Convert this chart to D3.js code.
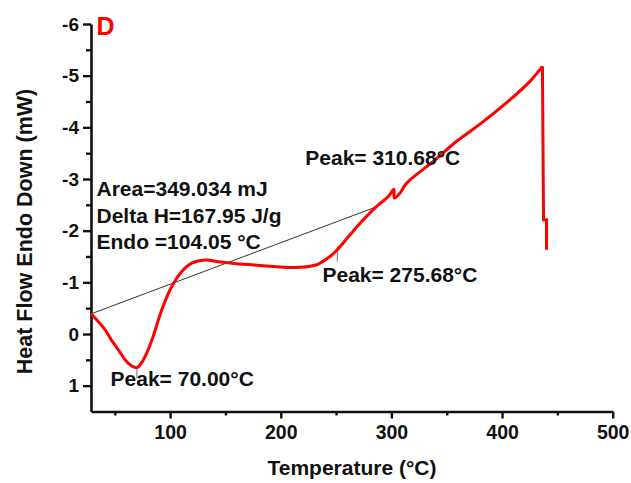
<!DOCTYPE html>
<html>
<head>
<meta charset="utf-8">
<script src="https://cdn.jsdelivr.net/npm/d3@7"></script>
<style>
  body { margin: 0; background: #fff; }
  text { font-family: "Liberation Sans", Arial, sans-serif; font-weight: bold; fill: #111; }
</style>
</head>
<body>
<svg width="631" height="483"></svg>
<script>
// DSC trace
const temperature = [28.6, 35, 41.3, 47, 53.3, 62.3, 70, 75.9, 83.5, 92.5, 101.5, 110.6, 119.6, 131.6, 143.6,
  155.7, 173.8, 196.4, 217.4, 232.5, 244.5, 251.1, 262.6, 274.6, 286.7, 297.2, 302.3, 302.5, 307.8, 313.8,
  337.8, 359, 383, 407, 425.2, 436.5];
const heatFlow = [-0.39, -0.24, -0.08, 0.12, 0.31, 0.57, 0.65, 0.5, 0.12, -0.47, -0.92, -1.21, -1.37, -1.43, -1.4,
  -1.37, -1.34, -1.3, -1.29, -1.34, -1.5, -1.63, -1.92, -2.21, -2.47, -2.66, -2.8, -2.63, -2.73, -2.92,
  -3.34, -3.73, -4.11, -4.53, -4.89, -5.18];
// drop at the end of the run
const tailTemperature = [436.5, 437.5, 440.2, 440.2];
const tailHeatFlow = [-5.18, -2.21, -2.21, -1.63];

// integration baseline and peak markers
const baselineTemperature = [28.6, 287.5];
const baselineHeatFlow = [-0.39, -2.47];
const markerTemperature = [70, 251.1];
const markerFrom = [0.65, -1.7];
const markerTo = [0.86, -1.4];

const xMajorTicks = [100, 200, 300, 400, 500];
const xMinorTicks = [50, 150, 250, 350, 450];
const yMajorTicks = [-6, -5, -4, -3, -2, -1, 0, 1];
const yMinorTicks = [-5.5, -4.5, -3.5, -2.5, -1.5, -0.5, 0.5];

const notes = ["Area=349.034 mJ", "Delta H=167.95 J/g", "Endo =104.05 °C"];
const peakLabels = ["Peak= 70.00°C", "Peak= 275.68°C", "Peak= 310.68°C"];
const peakLabelTemperature = [71.5, 263, 247.5];
const peakLabelHeatFlow = [1.01, -1.01, -3.28];

const svg = d3.select("svg");

const x = d3.scaleLinear().domain([28.5, 500]).range([91, 612.7]);
const y = d3.scaleLinear().domain([-6, 1.5]).range([24, 411.5]);

// axes
const xAxis = svg.append("g").attr("transform", "translate(0," + y(1.5) + ")");
xAxis.call(d3.axisBottom(x).tickValues(xMajorTicks).tickSize(7).tickSizeOuter(0).tickPadding(6));
xAxis.append("g").call(d3.axisBottom(x).tickValues(xMinorTicks).tickSize(4).tickFormat(""))
  .select(".domain").remove();

const yAxis = svg.append("g").attr("transform", "translate(" + x(28.5) + ",0)");
yAxis.call(d3.axisLeft(y).tickValues(yMajorTicks).tickSize(8).tickSizeOuter(0).tickPadding(4)
  .tickFormat((d) => String(d)));
yAxis.append("g").call(d3.axisLeft(y).tickValues(yMinorTicks).tickSize(5).tickFormat(""))
  .select(".domain").remove();

svg.selectAll(".domain").attr("stroke", "#111").attr("stroke-width", 2.6);
svg.selectAll(".tick line").attr("stroke", "#111").attr("stroke-width", 2.4);
xAxis.selectAll(".tick text").attr("font-size", 19.5).attr("dy", "0.72em");
yAxis.selectAll(".tick text").attr("font-size", 19);

// axis titles
svg.append("text")
  .attr("x", 352)
  .attr("y", 475)
  .attr("text-anchor", "middle")
  .attr("font-size", 21)
  .text("Temperature (°C)");

svg.append("text")
  .attr("transform", "translate(31.5," + 231.5 + ") rotate(-90)")
  .attr("text-anchor", "middle")
  .attr("font-size", 21.5)
  .text("Heat Flow Endo Down (mW)");

// baseline and markers
svg.append("line")
  .attr("x1", x(baselineTemperature[0])).attr("y1", y(baselineHeatFlow[0]))
  .attr("x2", x(baselineTemperature[1])).attr("y2", y(baselineHeatFlow[1]))
  .attr("stroke", "#333").attr("stroke-width", 1);

svg.append("g").selectAll("line")
  .data(markerTemperature)
  .enter().append("line")
  .attr("x1", (t) => x(t)).attr("x2", (t) => x(t))
  .attr("y1", (t, i) => y(markerFrom[i])).attr("y2", (t, i) => y(markerTo[i]))
  .attr("stroke", "#777").attr("stroke-width", 1);

// the curve
const curve = d3.line()
  .x((d) => x(d[0]))
  .y((d) => y(d[1]))
  .curve(d3.curveCatmullRom.alpha(0.5));

svg.append("path")
  .datum(d3.zip(temperature, heatFlow))
  .attr("fill", "none")
  .attr("stroke", "#ff0000")
  .attr("stroke-width", 3)
  .attr("stroke-linejoin", "round")
  .attr("d", curve);

svg.append("path")
  .datum(d3.zip(tailTemperature, tailHeatFlow))
  .attr("fill", "none")
  .attr("stroke", "#ff0000")
  .attr("stroke-width", 3)
  .attr("d", d3.line().x((d) => x(d[0])).y((d) => y(d[1])));

// annotations
svg.append("g").selectAll("text")
  .data(notes)
  .enter().append("text")
  .attr("x", 96.5)
  .attr("y", (d, i) => 196 + i * 26.7)
  .attr("font-size", 21)
  .text((d) => d);

svg.append("g").selectAll("text")
  .data(peakLabels)
  .enter().append("text")
  .attr("x", (d, i) => x(peakLabelTemperature[i]) - 28)
  .attr("y", (d, i) => y(peakLabelHeatFlow[i]))
  .attr("font-size", 21)
  .text((d) => d);

svg.append("text")
  .attr("x", 96.5)
  .attr("y", 34.5)
  .attr("font-size", 25)
  .style("fill", "#ff0000")
  .text("D");
</script>
</body>
</html>
